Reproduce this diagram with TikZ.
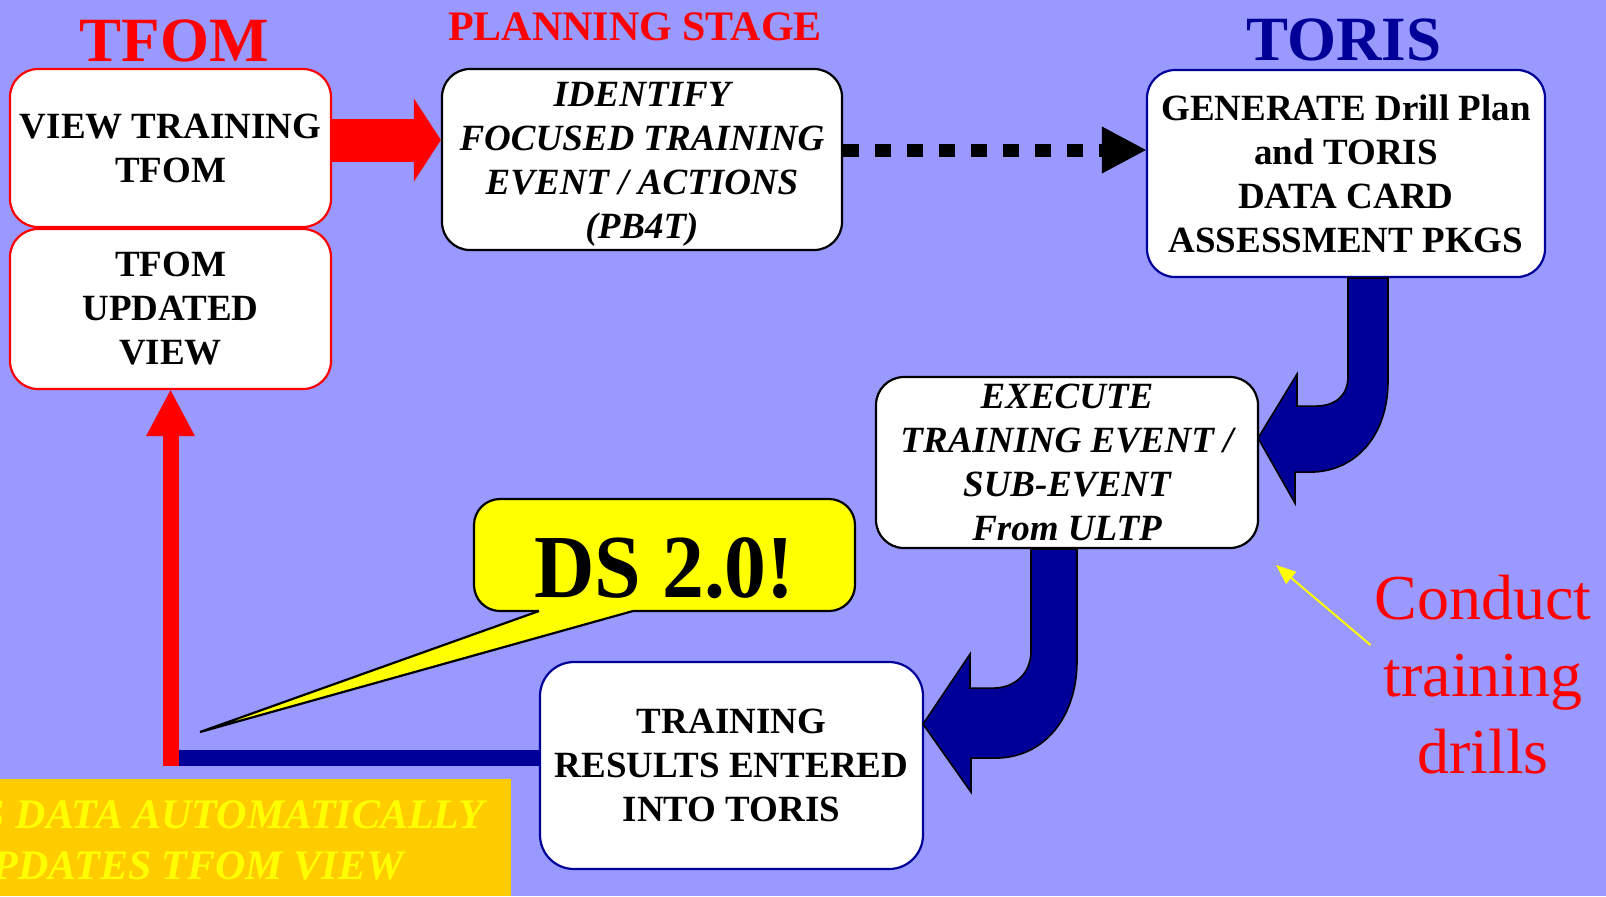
\documentclass[tikz,border=0pt]{standalone}
\usepackage{fontspec}
\setmainfont{Liberation Serif}
\usetikzlibrary{arrows.meta}
\definecolor{slide}{HTML}{9999FF}
\definecolor{tfomred}{HTML}{FF0000}
\definecolor{torisblue}{HTML}{000099}
\definecolor{dsyellow}{HTML}{FFFF00}
\definecolor{notegold}{HTML}{FFCC00}
\begin{document}
\begin{tikzpicture}[x=0.5pt,y=-0.5pt,
    card/.style={draw,fill=white,line width=1.1pt,rounded corners=14pt,align=center,inner sep=0pt,
        font=\fontsize{18.5}{22}\selectfont\bfseries},
    cardit/.style={card,font=\fontsize{18.5}{22}\selectfont\bfseries\itshape},
    headline/.style={anchor=base,inner sep=0pt,font=\fontsize{31.5}{36}\selectfont\bfseries},
    bluearrow/.style={fill=torisblue,draw=black,line width=0.8pt},
    tip/.style={-{Triangle[#1,line width=0pt]}}]

    \useasboundingbox (0,0) rectangle (1606,896);
    \fill[slide] (0,0) rectangle (1606,896);

    % titles
    \node[headline,text=tfomred] (tfomtitle) at (174,61) {TFOM};
    \node[headline,text=tfomred,font=\fontsize{21}{24}\selectfont\bfseries] (planning) at (635,40) {PLANNING STAGE};
    \node[headline,text=torisblue] (toristitle) at (1344,60) {TORIS};

    % tfom boxes
    \node[card,draw=tfomred,minimum width=160.5pt,minimum height=79pt] (viewbox) at (170.5,148) {VIEW TRAINING\\TFOM};
    \node[card,draw=tfomred,minimum width=160.5pt,minimum height=80pt] (updatedbox) at (170.5,309) {TFOM\\UPDATED\\VIEW};

    % planning and toris boxes
    \node[cardit,minimum width=200pt,minimum height=90.5pt] (planbox) at (642,159.5) {\rule{0pt}{17pt}IDENTIFY\\FOCUSED TRAINING\\EVENT / ACTIONS\\(PB4T)};
    \node[card,draw=torisblue,minimum width=199pt,minimum height=103.5pt] (generatebox) at (1346,173.5) {GENERATE Drill Plan\\and TORIS\\DATA CARD\\ASSESSMENT PKGS};
    \node[cardit,minimum width=191pt,minimum height=85.5pt] (executebox) at (1067,462.5) {EXECUTE\\TRAINING EVENT /\\SUB-EVENT\\From ULTP};
    \node[card,draw=torisblue,rounded corners=17pt,minimum width=191.5pt,minimum height=103.5pt] (resultsbox) at (731.5,765.5) {TRAINING\\RESULTS ENTERED\\INTO TORIS};

    % view -> identify
    \draw[tfomred,line width=21.5pt,tip={width=41.5pt,length=13.5pt}] ([yshift=4pt]viewbox.east) -- ([yshift=4pt]viewbox.east -| planbox.west);

    % identify -> generate
    \draw[line width=6.5pt,dash pattern=on 8pt off 8pt,tip={width=23.5pt,length=22pt}] ([yshift=4.75pt]planbox.east) -- ([yshift=4.75pt]planbox.east -| generatebox.west);

    % generate -> execute
    \begin{scope}[shift={(generatebox.south)}]
        \draw[bluearrow] (2,0) -- (2,98) .. controls (2,118) and (-11,128) .. (-31,128) -- (-49,128) -- (-49,96)
            -- (-88,160) -- (-51,225) -- (-51,194) -- (-36,194) .. controls (9,194) and (42,158) .. (42,103) -- (42,0) -- cycle;
    \end{scope}

    % execute -> results
    \begin{scope}[shift={(executebox.south)}]
        \draw[bluearrow] (-36,0) -- (-36,102) .. controls (-36,124) and (-52,139) .. (-74,139) -- (-97,139) -- (-97,105)
            -- (-144,175) -- (-96,243) -- (-96,209) -- (-72,209) .. controls (-22,209) and (10,167) .. (10,112) -- (10,0) -- cycle;
    \end{scope}

    % results -> updated view
    \coordinate (bend) at (170.5,758);
    \draw[torisblue,line width=8pt] (resultsbox.west |- bend) -- ([xshift=4pt]bend);
    \draw[tfomred,line width=8pt,tip={width=24.5pt,length=23pt}] ([yshift=-4pt]bend) -- (updatedbox.south);

    % callout
    \node[card,fill=dsyellow,rounded corners=13pt,minimum width=190.5pt,minimum height=56pt,
        text height=42pt,text depth=0pt,font=\fontsize{45}{45}\selectfont\bfseries] (ds) at (664.5,555) {\scalebox{0.93}[1]{DS 2.0!}};
    \fill[dsyellow] (539,605) -- (539,611) -- (200,732) -- (633,611) -- (633,605) -- cycle;
    \draw[line width=1.1pt,line join=miter] (539,611) -- (200,732) -- (633,611);

    % automatic update note
    \begin{scope}
        \clip (0,779) rectangle (511,896);
        \fill[notegold] (0,779) rectangle (511,896);
        \node[align=center,text=dsyellow,font=\fontsize{21}{25.5}\selectfont\bfseries\itshape] (autonote) at (183,840)
            {TORIS DATA AUTOMATICALLY\\UPDATES TFOM VIEW};
    \end{scope}

    % conduct training drills
    \node[align=center,text=tfomred,font=\fontsize{32}{38.5}\selectfont] (drills) at (1483,675) {Conduct\\training\\drills};
    \coordinate (drillsptr) at (1370.5,645);
    \coordinate (drillstip) at (1276,565);
    \draw[dsyellow,line width=1pt,tip={width=8pt,length=10pt}] (drillsptr) -- (drillstip);
\end{tikzpicture}
\end{document}
